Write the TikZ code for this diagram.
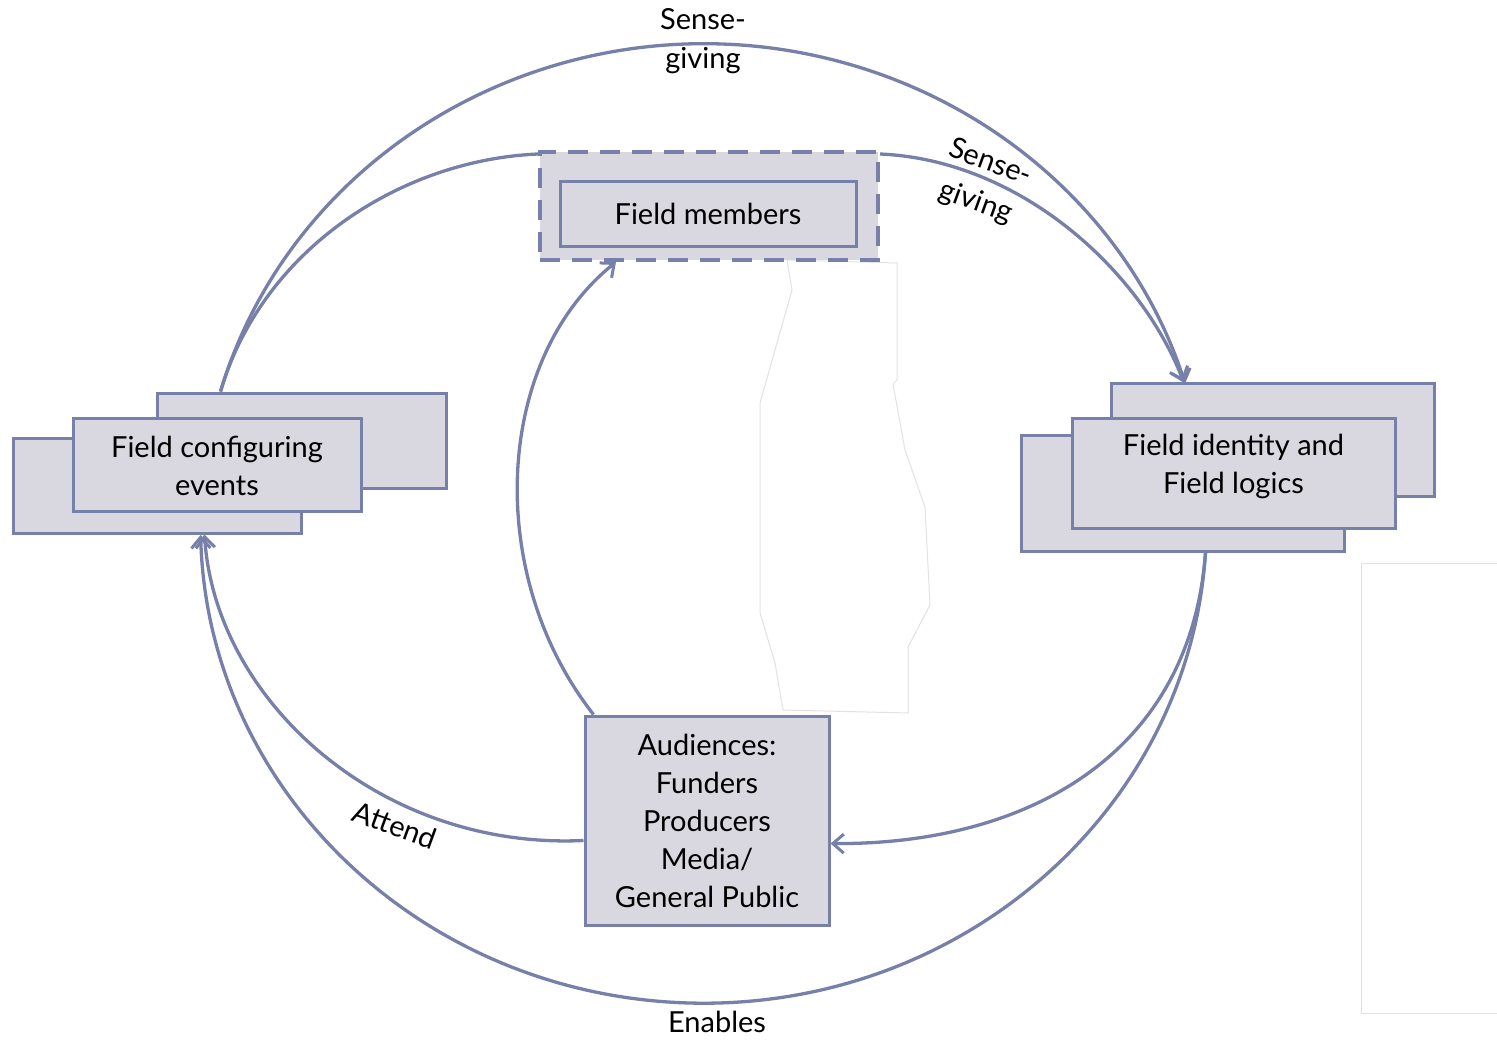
\documentclass[tikz,border=0pt]{standalone}
\usepackage{fontspec}
\setmainfont{Lato}
\usetikzlibrary{arrows.meta,calc}
\definecolor{edge}{HTML}{7680A8}
\definecolor{boxfill}{HTML}{D9D8E0}
\definecolor{ghost}{HTML}{E2E2E2}
\begin{document}
\begin{tikzpicture}[x=1pt,y=1pt,
  box/.style={draw=edge,fill=boxfill,line width=3pt,inner sep=0pt,align=center,
    font=\fontsize{29}{38}\selectfont},
  txt/.style={inner sep=0pt,align=center,font=\fontsize{29}{38}\selectfont},
  conn/.style={draw=edge,line width=3.3pt},
  tip/.style={-{Straight Barb[length=11pt,width=19pt,line width=3pt]}},
  lbl/.style={align=center,inner sep=0pt,font=\fontsize{29}{39}\selectfont}]
\useasboundingbox (0,0) rectangle (1497,-1041);

% faint white shapes
\draw[ghost,line width=1pt,fill=white] (787,-260) -- (897,-263) -- (897,-380) -- (893,-384)
  -- (905,-450) -- (925,-507) -- (930,-605) -- (908,-647) -- (908,-713) -- (783,-710)
  -- (775,-663) -- (760,-613) -- (760,-403) -- (775,-350) -- (792,-290) -- cycle;
\draw[ghost,line width=1pt] (1497,-563) -- (1361,-563) -- (1361,-1013) -- (1497,-1013);

% boxes
\node[box,minimum width=338pt,minimum height=108pt,dash pattern=on 20pt off 12pt,line width=4pt] (fmo) at (709,-206) {};
\node[box,minimum width=296pt,minimum height=65pt] (fm) at (708,-213.5) {Field members};

\node[box,minimum width=288pt,minimum height=95pt] (fceL) at (157,-485.5) {};
\node[box,minimum width=289pt,minimum height=95pt] (fceR) at (301.5,-440.5) {};
\node[box,minimum width=288pt,minimum height=93pt] (fce) at (217,-464.5) {};
\node[txt] (fcet) at (217,-466) {Field configuring\\events};

\node[box,minimum width=323pt,minimum height=116pt] (fiL) at (1182.5,-493) {};
\node[box,minimum width=323pt,minimum height=113pt] (fiR) at (1272.5,-439.5) {};
\node[box,minimum width=323pt,minimum height=110pt] (fi) at (1233.5,-473) {};
\node[txt] (fit) at (1233.5,-466) {Field identity and\\Field logics};

\node[box,minimum width=244pt,minimum height=209pt] (aud) at (707,-820.5)
  {Audiences:\\Funders\\Producers\\Media/\\General Public};

% connectors
\draw[conn,tip] ([xshift=65pt]fceR.north west) arc[start angle=164,end angle=17,x radius=503pt,y radius=480pt];
\draw[conn,tip] ([xshift=186pt]fiL.south west) arc[start angle=-3.5,end angle=-178.6,x radius=503pt,y radius=480pt];

\draw[conn] ([yshift=-4pt]fmo.north west) .. controls (400,-160) and (262,-250) .. ([xshift=65pt]fceR.north west);
\draw[conn,tip] ([yshift=-4pt]fmo.north east) .. controls (1020,-160) and (1140,-270) .. ([xshift=74pt]fiR.north west);
\draw[conn,tip] ([xshift=186pt]fiL.south west) .. controls (1190,-760) and (1020,-845) .. ([yshift=-23pt]aud.east);
\draw[conn,tip] ([yshift=-20pt]aud.west) .. controls (380,-850) and (215,-700) .. ([xshift=193pt]fceL.south west);
\draw[conn,tip] ([xshift=10pt]aud.north west) .. controls (484,-575) and (494,-360) .. ([xshift=78pt]fmo.south west);

% labels
\node[lbl] (l1) at (703,-41) {Sense-\\giving};
\node[lbl,rotate=-20,font=\fontsize{29}{42}\selectfont] (l2) at (983,-183) {Sense-\\giving};
\node[lbl,rotate=-20] (l3) at (395,-825) {Attend};
\node[lbl] (l4) at (717,-1022) {Enables};
\end{tikzpicture}
\end{document}
